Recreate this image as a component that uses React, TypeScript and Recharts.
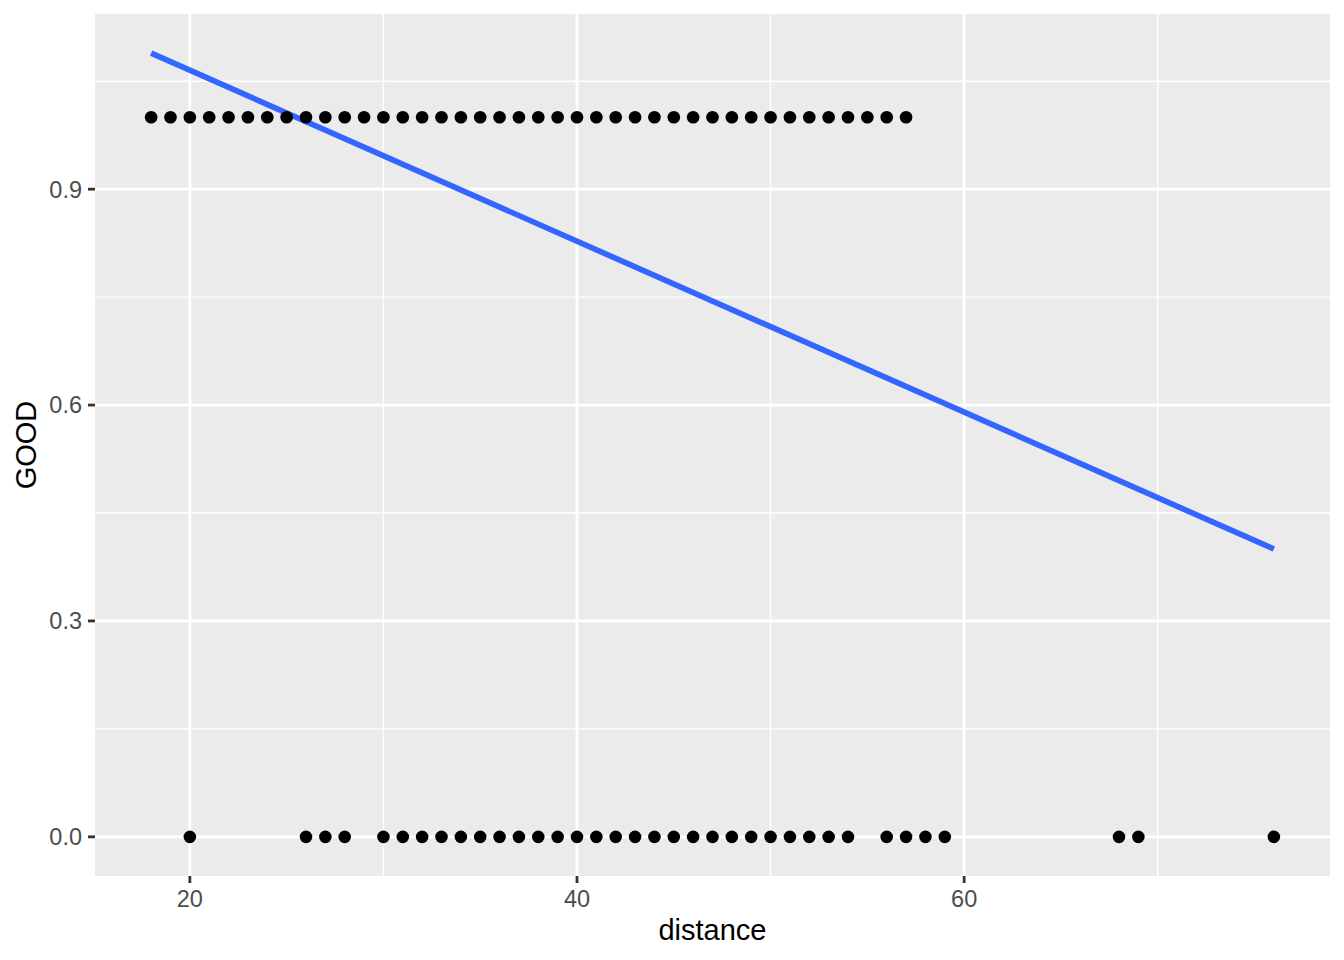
import {
	ComposedChart,
	Scatter,
	Line,
	XAxis,
	YAxis,
	CartesianGrid,
} from "recharts"

// distances of kicks that were good (GOOD = 1) and missed (GOOD = 0)
const goodDistances = [
	18, 19, 20, 21, 22, 23, 24, 25, 26, 27, 28, 29, 30, 31, 32, 33, 34, 35, 36,
	37, 38, 39, 40, 41, 42, 43, 44, 45, 46, 47, 48, 49, 50, 51, 52, 53, 54, 55,
	56, 57,
]
const missDistances = [
	20, 26, 27, 28, 30, 31, 32, 33, 34, 35, 36, 37, 38, 39, 40, 41, 42, 43, 44,
	45, 46, 47, 48, 49, 50, 51, 52, 53, 54, 56, 57, 58, 59, 68, 69, 76,
]

// fitted linear trend, read at both ends
const fitX = [18, 76]
const fitY = [1.089, 0.4]

const xTicks = [20, 40, 60]
const xMinor = [30, 50, 70]
const yTicks = [0, 0.3, 0.6, 0.9]
const yMinor = [0.15, 0.45, 0.75, 1.05]

const points = [
	...goodDistances.map((d) => ({ x: d, y: 1 })),
	...missDistances.map((d) => ({ x: d, y: 0 })),
]
const fit = fitX.map((x, i) => ({ x, y: fitY[i] }))

const font = "'Liberation Sans', Arial, Helvetica, sans-serif"

const tickStyle = { fill: "#4D4D4D", fontSize: 23.5, fontFamily: font }

const Dot = (props: any) => (
	<circle cx={props.cx} cy={props.cy} r={6.3} fill="#000000" />
)

const XTitle = (props: any) => {
	const vb = props.viewBox
	return (
		<text
			x={vb.x + vb.width / 2}
			y={940}
			textAnchor="middle"
			fontSize={29}
			fontFamily={font}
			fill="#000000"
		>
			distance
		</text>
	)
}

const YTitle = (props: any) => {
	const vb = props.viewBox
	const cy = vb.y + vb.height / 2
	return (
		<text
			x={36}
			y={cy}
			transform={`rotate(-90, 36, ${cy})`}
			textAnchor="middle"
			fontSize={29}
			fontFamily={font}
			fill="#000000"
		>
			GOOD
		</text>
	)
}

const App = () => {
	return (
		<div style={{ position: "absolute", left: 0, top: 0, background: "#fff" }}>
			<ComposedChart
				width={1344}
				height={960}
				margin={{ top: 14, right: 14, left: 0, bottom: 0 }}
				style={{ fontFamily: font }}
			>
				<CartesianGrid
					fill="#EBEBEB"
					stroke="#FFFFFF"
					strokeWidth={1.4}
					horizontalValues={yMinor}
					verticalValues={xMinor}
				/>
				<CartesianGrid
					stroke="#FFFFFF"
					strokeWidth={2.8}
					horizontalValues={yTicks}
					verticalValues={xTicks}
				/>
				<XAxis
					dataKey="x"
					type="number"
					domain={[15.1, 78.9]}
					ticks={xTicks}
					allowDataOverflow
					height={84}
					axisLine={false}
					tickSize={7}
					tickMargin={7}
					tickLine={{ stroke: "#333333", strokeWidth: 2.8 }}
					tick={tickStyle}
					label={<XTitle />}
				/>
				<YAxis
					dataKey="y"
					type="number"
					domain={[-0.0544, 1.1434]}
					ticks={yTicks}
					allowDataOverflow
					width={95}
					axisLine={false}
					tickSize={7}
					tickMargin={6}
					tickLine={{ stroke: "#333333", strokeWidth: 2.8 }}
					tick={tickStyle}
					tickFormatter={(v: number) => v.toFixed(1)}
					label={<YTitle />}
				/>
				<Scatter
					data={points}
					dataKey="y"
					shape={<Dot />}
					isAnimationActive={false}
				/>
				<Line
					data={fit}
					dataKey="y"
					type="linear"
					stroke="#3366FF"
					strokeWidth={5.7}
					dot={false}
					activeDot={false}
					isAnimationActive={false}
				/>
			</ComposedChart>
		</div>
	)
}

export default App
